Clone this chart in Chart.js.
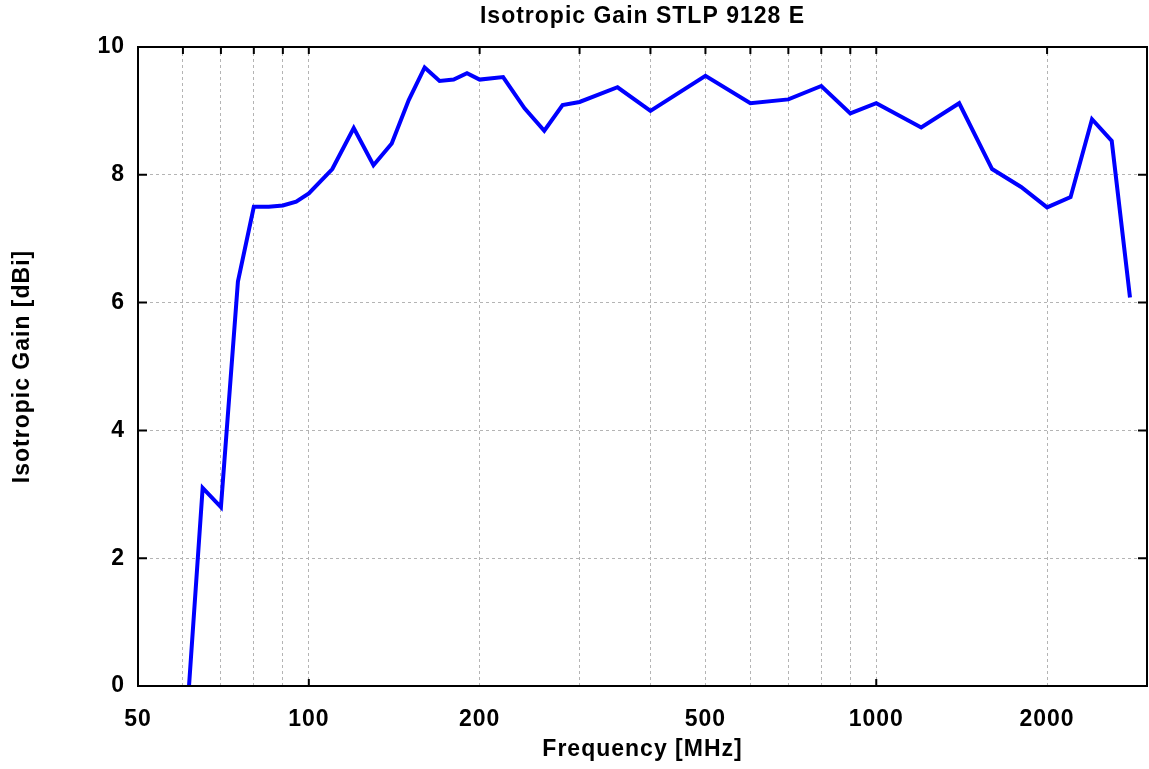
<!DOCTYPE html>
<html>
<head>
<meta charset="utf-8">
<script src="https://cdn.jsdelivr.net/npm/chart.js@4"></script>
<style>
  html, body { margin: 0; padding: 0; background: #fff; }
  #wrap { width: 1149px; height: 769px; }
</style>
</head>
<body>
<div id="wrap"><canvas id="gain"></canvas></div>
<script>
// frequency in MHz, gain in dBi
const frequencies = [61.5, 65, 70, 75, 80, 85, 90, 95, 100, 110, 120, 130, 140, 150, 160, 170, 180, 190,
  200, 220, 240, 260, 280, 300, 350, 400, 500, 600, 700, 800, 900, 1000, 1200, 1400, 1600, 1800,
  2000, 2200, 2400, 2600, 2800];
const gains = [0, 3.10, 2.80, 6.33, 7.50, 7.50, 7.52, 7.58, 7.71, 8.09, 8.73, 8.15, 8.49, 9.17, 9.68, 9.47, 9.49, 9.59,
  9.49, 9.53, 9.04, 8.69, 9.09, 9.14, 9.37, 9.00, 9.55, 9.12, 9.18, 9.39, 8.96, 9.12, 8.74, 9.12, 8.09, 7.81,
  7.49, 7.65, 8.87, 8.53, 6.08];

const xGrid = [50, 60, 70, 80, 90, 100, 200, 300, 400, 500, 600, 700, 800, 900, 1000, 2000, 3000];
const xLabels = [50, 100, 200, 500, 1000, 2000];
const yTicks = [0, 2, 4, 6, 8, 10];

const FONT = { family: "'Liberation Sans', Arial, sans-serif", size: 23, weight: 'bold' };

// the original lettering is a bit wider than Arial
const spacingPlugin = {
  id: 'spacing',
  beforeDraw(chart) { chart.ctx.letterSpacing = '1px'; }
};

// black frame with inward tick marks, like the original plot
const framePlugin = {
  id: 'frame',
  afterDraw(chart) {
    const { ctx, chartArea: a, scales } = chart;
    ctx.save();
    ctx.strokeStyle = '#000';
    ctx.lineWidth = 2;
    ctx.beginPath();
    xGrid.forEach(v => {
      if (v === 50 || v === 3000) return;
      const px = scales.x.getPixelForValue(v);
      ctx.moveTo(px, a.top);
      ctx.lineTo(px, a.top + 7);
      if (v === 100 || v === 1000) {
        ctx.moveTo(px, a.bottom);
        ctx.lineTo(px, a.bottom - 7);
      }
    });
    yTicks.forEach(v => {
      const py = scales.y.getPixelForValue(v);
      ctx.moveTo(a.left, py);
      ctx.lineTo(a.left + 9, py);
      ctx.moveTo(a.right, py);
      ctx.lineTo(a.right - 9, py);
    });
    ctx.stroke();
    ctx.strokeRect(a.left, a.top, a.right - a.left, a.bottom - a.top);
    ctx.restore();
  }
};

new Chart(document.getElementById('gain'), {
  type: 'line',
  data: {
    datasets: [{
      data: frequencies.map((f, i) => ({ x: f, y: gains[i] })),
      borderColor: '#0000ff',
      borderWidth: 4,
      pointRadius: 0,
      tension: 0,
      fill: false
    }]
  },
  options: {
    responsive: true,
    maintainAspectRatio: false,
    animation: false,
    layout: { padding: { top: 3, right: 2, left: 0, bottom: 0 } },
    plugins: {
      legend: { display: false },
      tooltip: { enabled: false },
      title: {
        display: true,
        text: 'Isotropic Gain STLP 9128 E',
        color: '#000',
        font: FONT,
        fullSize: false,
        padding: { top: 0, bottom: 16.4 }
      }
    },
    scales: {
      x: {
        type: 'logarithmic',
        min: 50,
        max: 3000,
        afterBuildTicks: s => { s.ticks = xGrid.map(v => ({ value: v })); },
        afterFit: s => { s.height = 83; s.paddingLeft = 0; s.paddingRight = 0; },
        ticks: {
          autoSkip: false,
          maxRotation: 0,
          color: '#000',
          font: FONT,
          padding: 20,
          callback: v => xLabels.includes(v) ? String(v) : ''
        },
        grid: {
          drawTicks: false,
          color: ctx => (ctx.tick && (ctx.tick.value === 50 || ctx.tick.value === 3000)) ? 'rgba(0,0,0,0)' : '#b4b4b4',
          lineWidth: 1
        },
        border: { display: false, dash: [3, 3] },
        title: {
          display: true,
          text: 'Frequency [MHz]',
          color: '#000',
          font: FONT,
          padding: { top: 0, bottom: 6 }
        }
      },
      y: {
        min: 0,
        max: 10,
        afterBuildTicks: s => { s.ticks = yTicks.map(v => ({ value: v })); },
        afterFit: s => { s.width = 138; },
        ticks: {
          color: '#000',
          font: FONT,
          padding: 13
        },
        grid: {
          drawTicks: false,
          color: ctx => (ctx.tick && (ctx.tick.value === 0 || ctx.tick.value === 10)) ? 'rgba(0,0,0,0)' : '#b4b4b4',
          lineWidth: 1
        },
        border: { display: false, dash: [3, 3] },
        title: {
          display: true,
          text: 'Isotropic Gain [dBi]',
          color: '#000',
          font: FONT,
          padding: { top: 9, bottom: 0 }
        }
      }
    }
  },
  plugins: [spacingPlugin, framePlugin]
});
</script>
</body>
</html>
